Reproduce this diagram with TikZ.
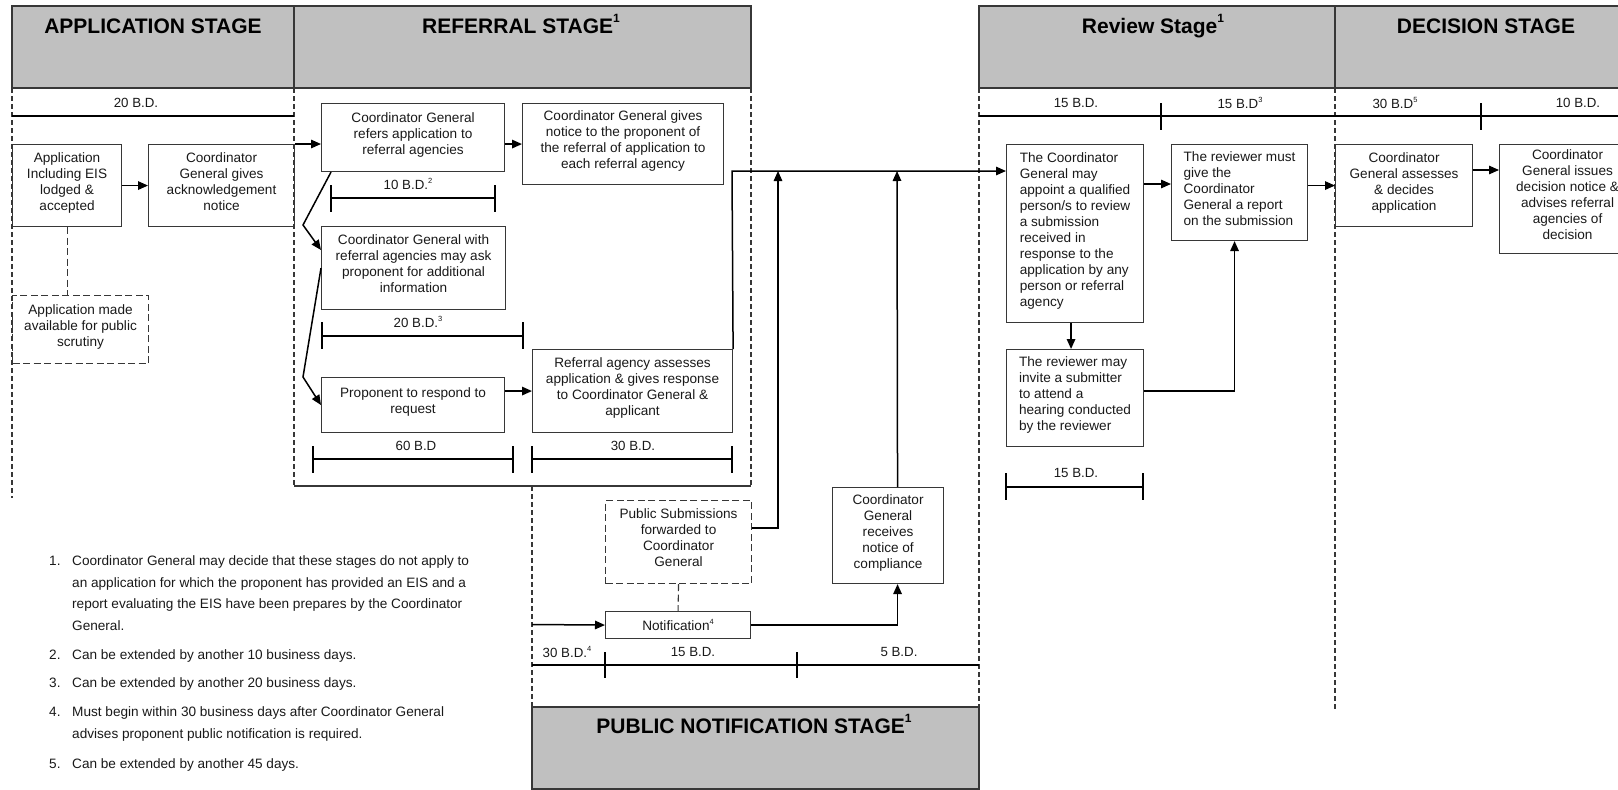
\documentclass[tikz,border=0pt]{standalone}
\usepackage{fontspec}
\setmainfont{Liberation Sans}
\usetikzlibrary{arrows.meta,calc}
\definecolor{hdrgray}{RGB}{192,192,192}
\definecolor{linegray}{RGB}{55,55,55}
\definecolor{txtgray}{RGB}{25,25,25}
\newcommand{\sps}[1]{\raisebox{0.45em}{\fontsize{7.5}{7.5}\selectfont #1}}
\newcommand{\hsps}[1]{\raisebox{0.5em}{\fontsize{12}{12}\selectfont\bfseries #1}}
\begin{document}
\begin{tikzpicture}[x=1pt,y=-1pt,
  box/.style={draw=linegray, line width=1.1pt, inner sep=0pt, anchor=north west, align=center, text depth=8pt, text=txtgray, font=\fontsize{13.6}{16}\selectfont},
  dbox/.style={box, dash pattern=on 7pt off 3.5pt},
  lbox/.style={box, align=left},
  hdr/.style={draw=linegray, line width=1.3pt, fill=hdrgray},
  htext/.style={font=\fontsize{21}{25}\selectfont\bfseries, inner sep=0pt, anchor=base},
  lbl/.style={font=\fontsize{13.3}{16}\selectfont, inner sep=0pt, text=txtgray},
  bar/.style={line width=1.1pt, draw=black},
  sep/.style={draw=linegray, line width=1.1pt, dash pattern=on 5pt off 3pt},
  arr/.style={line width=1.5pt, -{Triangle[length=10pt,width=8.5pt]}},
  dcon/.style={draw=linegray, line width=1.1pt, dash pattern=on 7pt off 3.5pt},
  fn/.style={font=\fontsize{13.6}{16}\selectfont, inner sep=0pt, anchor=base west, text=txtgray},
]
\useasboundingbox (0,0) rectangle (1618,790);

% ---------- stage headers ----------
\draw[hdr] (12,6) rectangle (294,88);
\draw[hdr] (294,6) rectangle (751,88);
\draw[hdr] (979,6) rectangle (1335,88);
\draw[hdr] (1335,6) rectangle (1640,88);
\draw[hdr] (532,707) rectangle (979,789);
\node[htext] (h1t) at (153,33) {APPLICATION STAGE};
\node[htext] (h2t) at (521,33) {REFERRAL STAGE\hsps{1}};
\node[htext] (h3t) at (1153,33) {Review Stage\hsps{1}};
\node[htext] (h4t) at (1486,33) {DECISION STAGE};
\node[htext] (h5t) at (754,733) {PUBLIC NOTIFICATION STAGE\hsps{1}};

% ---------- stage separators ----------
\draw[sep] (12,88) -- (12,498);
\draw[sep] (294,88) -- (294,486);
\draw[sep] (751,88) -- (751,486);
\draw[sep] (532,486) -- (532,707);
\draw[sep] (979,88) -- (979,707);
\draw[sep] (1335,88) -- (1335,710);
\draw[draw=linegray, line width=1.3pt] (294,486) -- (751,486);

% ---------- time bars ----------
\draw[bar] (12,116) -- (294,116);
\node[lbl] (t1) at (136,103) {20 B.D.};

\draw[bar] (331,185) -- (331,212) (331,198) -- (495,198) (495,185) -- (495,212);
\node[lbl] (t2) at (408,184) {10 B.D.\sps{2}};

\draw[bar] (322,322) -- (322,349) (322,336) -- (523,336) (523,322) -- (523,349);
\node[lbl] (t3) at (418,322) {20 B.D.\sps{3}};

\draw[bar] (313,446) -- (313,473) (313,459) -- (513,459) (513,446) -- (513,473);
\node[lbl] (t4) at (416,446) {60 B.D};

\draw[bar] (532,446) -- (532,473) (532,459) -- (732,459) (732,446) -- (732,473);
\node[lbl] (t5) at (633,446) {30 B.D.};

\draw[bar] (979,116) -- (1335,116) (1161,103) -- (1161,130);
\node[lbl] (t6) at (1076,103) {15 B.D.};
\node[lbl] (t7) at (1240,103) {15 B.D\sps{3}};

\draw[bar] (1335,116) -- (1618,116) (1481,103) -- (1481,130);
\node[lbl] (t8) at (1395,103) {30 B.D\sps{5}};
\node[lbl] (t9) at (1578,103) {10 B.D.};

\draw[bar] (1006,473) -- (1006,500) (1006,487) -- (1143,487) (1143,473) -- (1143,500);
\node[lbl] (t10) at (1076,473) {15 B.D.};

\draw[bar] (532,665) -- (979,665) (605,652) -- (605,678) (797,652) -- (797,678);
\node[lbl] (t11) at (567,652) {30 B.D.\sps{4}};
\node[lbl] (t12) at (693,652) {15 B.D.};
\node[lbl] (t13) at (899,652) {5 B.D.};

% ---------- application stage ----------
\node[box, minimum width=109pt, minimum height=82pt] (A1) at (12,144) {Application\\Including EIS\\lodged \&\\accepted};
\node[box, minimum width=146pt, minimum height=82pt] (A2) at (148,144) {Coordinator\\General gives\\acknowledgement\\notice};
\node[dbox, minimum width=136pt, minimum height=68pt] (A3) at (12,295) {Application made\\available for public\\scrutiny};

% ---------- referral stage ----------
\node[box, minimum width=183pt, minimum height=68pt] (R1) at (321,103) {Coordinator General\\refers application to\\referral agencies};
\node[box, minimum width=201pt, minimum height=81pt] (R2) at (522,103) {Coordinator General gives\\notice to the proponent of\\the referral of application to\\each referral agency};
\node[box, minimum width=184pt, minimum height=83pt] (R3) at (321,226) {Coordinator General with\\referral agencies may ask\\proponent for additional\\information};
\node[box, minimum width=183pt, minimum height=55pt] (R4) at (321,377) {Proponent to respond to\\request};
\node[box, minimum width=200pt, minimum height=83pt] (R5) at (532,349) {Referral agency assesses\\application \& gives response\\to Coordinator General \&\\applicant};

% ---------- public notification stage ----------
\node[dbox, minimum width=146pt, minimum height=83pt] (PS) at (605,500) {Public Submissions\\forwarded to\\Coordinator\\General};
\node[box, text depth=0pt, minimum width=145pt, minimum height=27pt] (NT) at (605,611) {Notification\sps{4}};
\node[box, minimum width=111pt, minimum height=96pt] (CG) at (832,487) {Coordinator\\General\\receives\\notice of\\compliance};

% ---------- review stage ----------
\node[lbox, minimum width=137pt, minimum height=178pt] (V1) at (1006,144) {The Coordinator\\General may\\appoint a qualified\\person/s to review\\a submission\\received in\\response to the\\application by any\\person or referral\\agency};
\node[lbox, minimum width=136pt, minimum height=96pt] (V2) at (1171,144) {The reviewer must\\give the\\Coordinator\\General a report\\on the submission};
\node[lbox, minimum width=137pt, minimum height=97pt] (V3) at (1006,349) {The reviewer may\\invite a submitter\\to attend a\\hearing conducted\\by the reviewer};

% ---------- decision stage ----------
\node[box, minimum width=137pt, minimum height=82pt] (D1) at (1335,144) {Coordinator\\General assesses\\\& decides\\application};
\node[box, minimum width=136pt, minimum height=109pt] (D2) at (1499,144) {Coordinator\\General issues\\decision notice \&\\advises referral\\agencies of\\decision};

% ---------- junction points ----------
\coordinate (k1) at (303,225);
\coordinate (k2) at (303,377);
\coordinate (mj) at (732,171);
\coordinate (u1) at (778,171);
\coordinate (u2) at (897,171);
\coordinate (nin) at (532,624.5);

% ---------- connectors ----------
\draw[arr] (A1) -- (A2);
\draw[dcon] (A1.south) -- (A1.south |- A3.north);
\draw[arr] (A2.north east) -- (A2.north east -| R1.west);
\draw[arr] (R2.west -| R1.east) -- (R2.west);
\draw[arr] ($(R1.south west)+(10,0)$) -- (k1) -- ($(R3.north west)+(0,24)$);
\draw[arr] (R3.west) -- (k2) -- (R4.west);
\draw[arr] (R5.west -| R4.east) -- (R5.west);
\draw[arr] (R5.north east) -- (mj) -- (mj -| V1.west);
\draw[arr] ($(PS.north east)+(0,28)$) -| (u1);
\draw[arr] ($(CG.north)+(9.5,0)$) -- (u2);
\draw[arr] (nin) -- (NT.west);
\draw[arr] (NT.east) -| ($(CG.south)+(9.5,0)$);
\draw[dcon] (PS.south) -- (NT.north);
\coordinate (v2in) at ($(V2.north west)+(0,40)$);
\draw[arr] (v2in -| V1.east) -- (v2in);
\draw[arr] ([xshift=-4pt]V1.south) -- ([xshift=-4pt]V3.north);
\draw[arr] ($(V3.north east)+(0,42)$) -| ($(V2.south)+(-5,0)$);
\draw[arr] (V2.east |- D1.west) -- (D1.west);
\coordinate (d2in) at ($(D2.north west)+(0,26)$);
\draw[arr] (d2in -| D1.east) -- (d2in);

% ---------- footnotes ----------
\node[fn] (f1n) at (49,565.5) {1.};
\node[fn] (f1a) at (72,565.5) {Coordinator General may decide that these stages do not apply to};
\node[fn] (f1b) at (72,587) {an application for which the proponent has provided an EIS and a};
\node[fn] (f1c) at (72,608.5) {report evaluating the EIS have been prepares by the Coordinator};
\node[fn] (f1d) at (72,630) {General.};
\node[fn] (f2n) at (49,659.5) {2.};
\node[fn] (f2a) at (72,659.5) {Can be extended by another 10 business days.};
\node[fn] (f3n) at (49,687.5) {3.};
\node[fn] (f3a) at (72,687.5) {Can be extended by another 20 business days.};
\node[fn] (f4n) at (49,716.5) {4.};
\node[fn] (f4a) at (72,716.5) {Must begin within 30 business days after Coordinator General};
\node[fn] (f4b) at (72,738.5) {advises proponent public notification is required.};
\node[fn] (f5n) at (49,768) {5.};
\node[fn] (f5a) at (72,768) {Can be extended by another 45 days.};
\end{tikzpicture}
\end{document}
